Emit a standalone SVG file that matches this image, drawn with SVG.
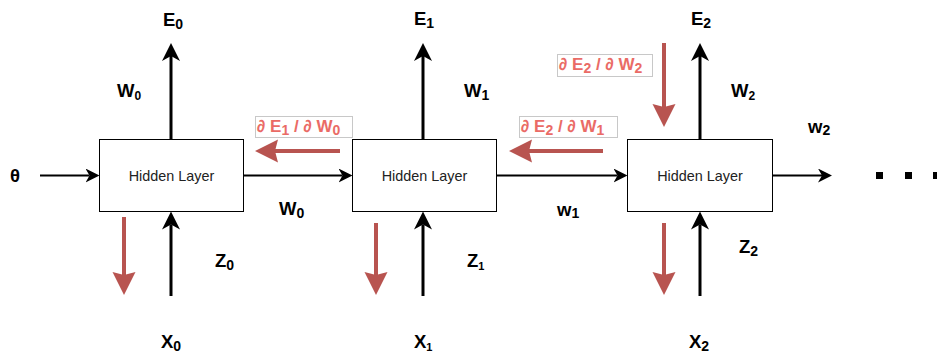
<svg xmlns="http://www.w3.org/2000/svg" width="937" height="358" viewBox="0 0 937 358">
<style>
text{font-family:"Liberation Sans",Arial,Helvetica,sans-serif;}
.lbl{font-size:18.5px;font-weight:bold;fill:#000;}
.red{font-size:17px;font-weight:bold;fill:#EA6B66;}
.hl{font-size:14.4px;fill:#222;}
.box{fill:#fff;stroke:#000;stroke-width:1;}
.rbox{fill:#fff;stroke:#c8c8c8;stroke-width:1;}
.big{stroke:#000;stroke-width:3;fill:none;marker-end:url(#ab);}
.sm{stroke:#000;stroke-width:2;fill:none;marker-end:url(#as);}
.rd{stroke:#B85450;stroke-width:4;fill:none;marker-end:url(#ar);}
</style>
<defs>
<marker id="ab" markerUnits="userSpaceOnUse" markerWidth="20" markerHeight="20" viewBox="0 0 20 20" refX="5" refY="9.5" orient="auto">
<path d="M0,0.5 L18,9.5 L0,18.5 L5,9.5 Z" fill="#000"/>
</marker>
<marker id="as" markerUnits="userSpaceOnUse" markerWidth="16" markerHeight="16" viewBox="0 0 16 16" refX="4" refY="7" orient="auto">
<path d="M0,0 L14,7 L0,14 L4,7 Z" fill="#000"/>
</marker>
<marker id="ar" markerUnits="userSpaceOnUse" markerWidth="24" markerHeight="24" viewBox="0 0 24 24" refX="3" refY="11.5" orient="auto">
<path d="M0,0 L23,11.5 L0,23 L3,11.5 Z" fill="#B85450"/>
</marker>
</defs>

<g id="connectors">
<path class="big" d="M171,139.5 V56"/>
<path class="big" d="M423,139.5 V56"/>
<path class="big" d="M700,139.5 V56"/>
<path class="big" d="M171,296 V224.5"/>
<path class="big" d="M423,296 V224.5"/>
<path class="big" d="M700,296 V224.5"/>
<path class="sm" d="M40,175.5 H89.5"/>
<path class="sm" d="M243.5,175.5 H342.5"/>
<path class="sm" d="M496.5,175.5 H617.5"/>
<path class="sm" d="M772.5,175.5 H822"/>
<path class="rd" d="M124,217 V275"/>
<path class="rd" d="M376,223 V275"/>
<path class="rd" d="M664,223 V275"/>
<path class="rd" d="M664,43 V107"/>
<path class="rd" d="M340,151 H275"/>
<path class="rd" d="M603,151 H529"/>
</g>

<g id="node-h0">
<rect class="box" x="99.5" y="139.5" width="144" height="72"/>
<text class="hl" x="171.5" y="180.5" text-anchor="middle">Hidden Layer</text>
</g>
<g id="node-h1">
<rect class="box" x="352.5" y="139.5" width="144" height="72"/>
<text class="hl" x="424.5" y="180.5" text-anchor="middle">Hidden Layer</text>
</g>
<g id="node-h2">
<rect class="box" x="627.5" y="139.5" width="145" height="72"/>
<text class="hl" x="700" y="180.5" text-anchor="middle">Hidden Layer</text>
</g>

<g id="labels">
<text class="lbl" x="10" y="181.5">θ</text>
<text class="lbl" x="163" y="26">E<tspan font-size="14" dy="3">0</tspan></text>
<text class="lbl" x="414" y="25">E<tspan font-size="14" dy="3">1</tspan></text>
<text class="lbl" x="691" y="25">E<tspan font-size="14" dy="3">2</tspan></text>
<text class="lbl" x="117" y="97">W<tspan font-size="12" dy="3">0</tspan></text>
<text class="lbl" x="464" y="97">W<tspan font-size="14" dy="3">1</tspan></text>
<text class="lbl" x="731" y="97">W<tspan font-size="12" dy="3">2</tspan></text>
<text class="lbl" x="279" y="215">W<tspan font-size="14" dy="3">0</tspan></text>
<text class="lbl" x="557" y="216" font-size="22">w<tspan font-size="14" dy="2">1</tspan></text>
<text class="lbl" x="808" y="133" font-size="22">w<tspan font-size="14" dy="2">2</tspan></text>
<text class="lbl" x="215" y="267">Z<tspan font-size="14" dy="3">0</tspan></text>
<text class="lbl" x="467" y="267">Z<tspan font-size="11" dy="3">1</tspan></text>
<text class="lbl" x="739" y="253">Z<tspan font-size="14" dy="3">2</tspan></text>
<text class="lbl" x="161" y="348">X<tspan font-size="14" dy="3">0</tspan></text>
<text class="lbl" x="414" y="348">X<tspan font-size="11" dy="3">1</tspan></text>
<text class="lbl" x="689" y="348">X<tspan font-size="14" dy="3">2</tspan></text>
</g>

<g id="grad-1">
<rect class="rbox" x="255.5" y="116.5" width="97" height="21"/>
<text class="red" x="257" y="132">∂ E<tspan font-size="14" dy="3">1</tspan><tspan dy="-3"> / ∂ W</tspan><tspan font-size="14" dy="3">0</tspan></text>
</g>
<g id="grad-2">
<rect class="rbox" x="519.5" y="116.5" width="98" height="21"/>
<text class="red" x="521" y="132">∂ E<tspan font-size="14" dy="3">2</tspan><tspan dy="-3"> / ∂ W</tspan><tspan font-size="14" dy="3">1</tspan></text>
</g>
<g id="grad-3">
<rect class="rbox" x="557.5" y="54.5" width="95" height="22"/>
<text class="red" x="559" y="70">∂ E<tspan font-size="14" dy="3">2</tspan><tspan dy="-3"> / ∂ W</tspan><tspan font-size="14" dy="3">2</tspan></text>
</g>

<g id="ellipsis">
<rect x="876" y="172" width="7" height="7" fill="#000"/>
<rect x="905" y="172" width="7" height="7" fill="#000"/>
<rect x="933" y="172" width="7" height="7" fill="#000"/>
</g>
</svg>
